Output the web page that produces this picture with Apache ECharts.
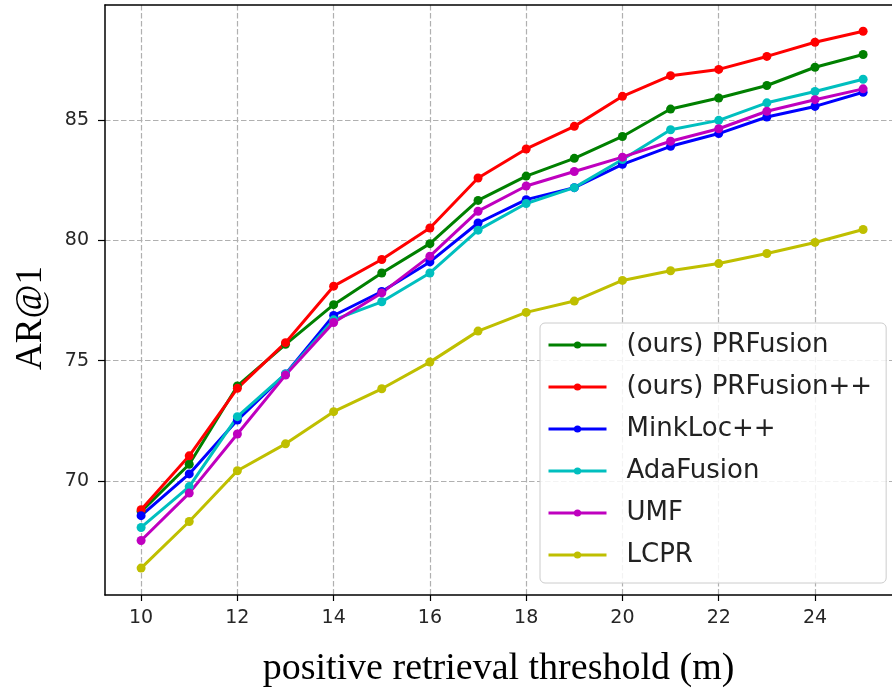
<!DOCTYPE html>
<html>
<head>
<meta charset="utf-8">
<script src="https://cdn.jsdelivr.net/npm/echarts@6/dist/echarts.min.js"></script>
<style>
  html, body { margin: 0; padding: 0; background: #fff; }
  #chart { width: 892px; height: 694px; }
</style>
</head>
<body>
<div id="chart"></div>
<script>
// thresholds (m)
const thresholds = [10, 11, 12, 13, 14, 15, 16, 17, 18, 19, 20, 21, 22, 23, 24, 25]
const xTicks = [10, 12, 14, 16, 18, 20, 22, 24]
const yTicks = [70, 75, 80, 85]

// AR@1 per method
const prfusion = [68.72, 70.69, 73.95, 75.68, 77.33, 78.65, 79.87, 81.67, 82.68, 83.42, 84.33, 85.47, 85.93, 86.45, 87.21, 87.74]
const prfusionPP = [68.80, 71.04, 73.85, 75.75, 78.10, 79.21, 80.52, 82.60, 83.81, 84.75, 86.00, 86.86, 87.12, 87.66, 88.25, 88.71]
const minkloc = [68.55, 70.29, 72.53, 74.45, 76.88, 77.88, 79.11, 80.73, 81.70, 82.20, 83.17, 83.92, 84.45, 85.14, 85.58, 86.17]
const adafusion = [68.06, 69.76, 72.67, 74.45, 76.70, 77.45, 78.65, 80.43, 81.54, 82.20, 83.37, 84.61, 85.00, 85.73, 86.20, 86.71]
const umf = [67.52, 69.49, 71.95, 74.40, 76.59, 77.82, 79.35, 81.22, 82.27, 82.87, 83.47, 84.13, 84.65, 85.38, 85.86, 86.31]
const lcpr = [66.37, 68.31, 70.42, 71.54, 72.88, 73.83, 74.94, 76.23, 77.01, 77.48, 78.34, 78.74, 79.04, 79.46, 79.92, 80.46]

const methods = [
  { name: '(ours) PRFusion', data: prfusion, color: '#008000' },
  { name: '(ours) PRFusion++', data: prfusionPP, color: '#ff0000' },
  { name: 'MinkLoc++', data: minkloc, color: '#0000ff' },
  { name: 'AdaFusion', data: adafusion, color: '#00bfbf' },
  { name: 'UMF', data: umf, color: '#bf00bf' },
  { name: 'LCPR', data: lcpr, color: '#bfbf00' }
]

const chart = echarts.init(document.getElementById('chart'))

const tickFont = { color: '#262626', fontSize: 19, fontFamily: 'DejaVu Sans' }
const gridLine = { show: true, lineStyle: { color: '#b0b0b0', width: 1.2, type: [5.5, 2.5] } }
const spine = { show: true, lineStyle: { color: '#000', width: 1.5 } }

const option = {
  animation: false,
  backgroundColor: '#fff',
  grid: {
    left: 105,
    top: 5,
    right: 0,
    bottom: 99
  },
  legend: {
    orient: 'vertical',
    left: 540,
    top: 323,
    padding: [9, 14, 15, 7],
    itemWidth: 58,
    itemHeight: 9,
    itemGap: 16,
    backgroundColor: 'rgba(255,255,255,0.85)',
    borderColor: '#cccccc',
    borderWidth: 1,
    borderRadius: 5,
    lineStyle: { width: 3 },
    textStyle: { color: '#222', fontSize: 26, fontFamily: 'DejaVu Sans', padding: [0, 0, 0, 15] },
    data: methods.map(m => m.name)
  },
  xAxis: [
    {
      type: 'value',
      min: 9.25,
      max: 25.6,
      name: 'positive retrieval threshold (m)',
      nameLocation: 'middle',
      nameGap: 55,
      nameTextStyle: { color: '#000', fontSize: 38, fontFamily: 'Liberation Serif' },
      axisLine: spine,
      axisTick: { show: true, length: 6, customValues: xTicks, lineStyle: { color: '#000', width: 1.2 } },
      axisLabel: { ...tickFont, margin: 14, customValues: xTicks },
      splitLine: gridLine
    },
    {
      // top spine only
      type: 'value',
      position: 'top',
      min: 9.25,
      max: 25.6,
      axisLine: spine,
      axisTick: { show: false },
      axisLabel: { show: false },
      splitLine: { show: false }
    }
  ],
  yAxis: {
    type: 'value',
    min: 65.25,
    max: 89.8,
    name: 'AR@1',
    nameLocation: 'middle',
    nameGap: 55,
    nameRotate: 90,
    nameTextStyle: { color: '#000', fontSize: 37, fontFamily: 'Liberation Serif', padding: [0, 36, 0, 0] },
    axisLine: spine,
    axisTick: { show: true, length: 7, customValues: yTicks, lineStyle: { color: '#000', width: 1.2 } },
    axisLabel: { ...tickFont, margin: 16, customValues: yTicks },
    splitLine: gridLine
  },
  series: methods.map(m => ({
    name: m.name,
    type: 'line',
    data: thresholds.map((t, i) => [t, m.data[i]]),
    symbol: 'circle',
    symbolSize: 9,
    showAllSymbol: true,
    lineStyle: { color: m.color, width: 3 },
    itemStyle: { color: m.color }
  }))
}

chart.setOption(option)
</script>
</body>
</html>
